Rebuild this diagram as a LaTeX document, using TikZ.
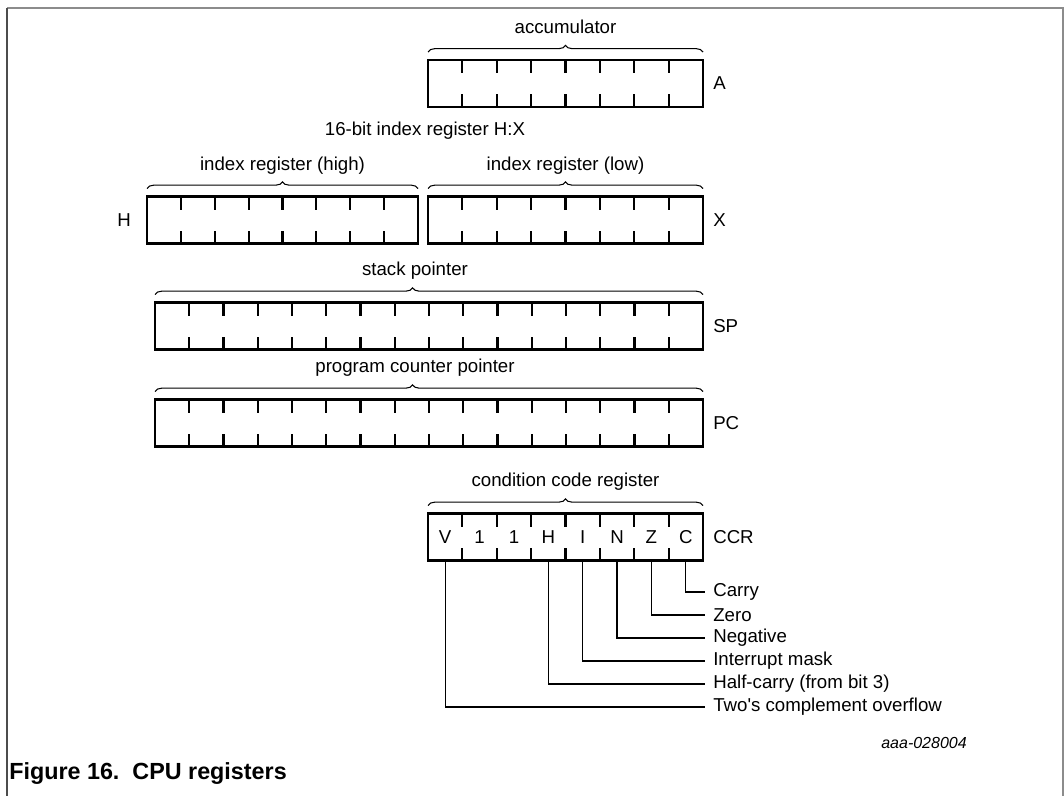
\documentclass[tikz,border=0pt]{standalone}
\usepackage{fontspec}
\setmainfont{Liberation Sans}
\usetikzlibrary{positioning, calc, decorations.pathreplacing}

\begin{document}
\begin{tikzpicture}[
		x=0.75pt, y=-0.75pt,
		every node/.style={font=\fontsize{14}{16}\selectfont},
		reg/.style={draw, line width=2.2pt, minimum height=47*0.75pt, inner sep=0pt, outer sep=0pt},
		tickmark/.style={line width=1.6pt},
		regname/.style={inner sep=0pt},
		title/.style={anchor=base, inner sep=0pt},
		regbrace/.style={decorate, decoration={brace, amplitude=5pt, #1}, line width=0.8pt},
		regbrace/.default={aspect=0.5},
		flagline/.style={line width=1pt},
		flagname/.style={anchor=west, inner xsep=6pt, inner ysep=0pt}
		]
		
		% Frame
		\useasboundingbox (0,0) rectangle (1064,796);
		\draw[black!45, line width=1.2pt] (7,8) -- (1063,8) -- (1063,796);
		\draw[black!70, line width=1.6pt] (7,8) -- (7,796);
		
		% Registers
		\node[reg, minimum width=275*0.75pt] (acc) at (565.5,83.5) {};
		\node[reg, minimum width=271*0.75pt] (hreg) at (282.5,220) {};
		\node[reg, minimum width=275*0.75pt] (xreg) at (565.5,220) {};
		\node[reg, minimum width=548*0.75pt] (sp) at (429,326) {};
		\node[reg, minimum width=548*0.75pt] (pc) at (429,423) {};
		\node[reg, minimum width=275*0.75pt] (ccr) at (565.5,537) {};
		
		% Bit ticks
		\foreach \r/\m in {acc/7, hreg/7, xreg/7, sp/15, pc/15, ccr/7}
		\foreach \i in {1,...,\m} {
			\draw[tickmark] ($(\r.north west)!{\i/(\m+1)}!(\r.north east)$) -- ++(0,13);
			\draw[tickmark] ($(\r.south west)!{\i/(\m+1)}!(\r.south east)$) -- ++(0,-13);
		}
		
		% Braces
		\foreach \r in {acc, hreg, xreg, ccr}
		\draw[regbrace] ([yshift=6pt]\r.north west) -- ([yshift=6pt]\r.north east);
		\foreach \r in {sp, pc}
		\draw[regbrace={aspect=0.47}] ([yshift=6pt]\r.north west) -- ([yshift=6pt]\r.north east);
		
		% Titles
		\node[title] (accT) at ($(acc.north)+(0,-27)$) {accumulator};
		\node[title] (hxT) at (425,135) {16-bit index register H:X};
		\node[title] (hT) at ($(hreg.north)+(0,-26)$) {index register (high)};
		\node[title] (xT) at ($(xreg.north)+(0,-26)$) {index register (low)};
		\node[title] (spT) at ($(sp.north)+(-14,-27)$) {stack pointer};
		\node[title] (pcT) at ($(pc.north)+(-14,-27)$) {program counter pointer};
		\node[title] (ccrT) at ($(ccr.north)+(0,-27)$) {condition code register};
		
		% Register names
		\node[regname, right=7.5pt of acc] (accN) {A};
		\node[regname, left=12pt of hreg] (hN) {H};
		\node[regname, right=7.5pt of xreg] (xN) {X};
		\node[regname, right=7.5pt of sp] (spN) {SP};
		\node[regname, right=7.5pt of pc] (pcN) {PC};
		\node[regname, right=7.5pt of ccr] (ccrN) {CCR};
		
		% CCR bits
		\foreach \f [count=\i] in {V,1,1,H,I,N,Z,C}
		\node (f\i) at ($(ccr.west)!{(\i-0.5)/8}!(ccr.east)$) {\f};
		
		% Flag descriptions
		\node[flagname] (carry) at (705,592) {Carry};
		\node[flagname] (zero) at (705,615) {Zero};
		\node[flagname] (neg) at (705,638) {Negative};
		\node[flagname] (imask) at (705,661) {Interrupt mask};
		\node[flagname] (hcarry) at (705,684) {Half-carry (from bit 3)};
		\node[flagname] (ovf) at (705,707) {Two\textquotesingle s complement overflow};
		
		\draw[flagline] (f8 |- ccr.south) |- (carry.west);
		\draw[flagline] (f7 |- ccr.south) |- (zero.west);
		\draw[flagline] (f6 |- ccr.south) |- (neg.west);
		\draw[flagline] (f5 |- ccr.south) |- (imask.west);
		\draw[flagline] (f4 |- ccr.south) |- (hcarry.west);
		\draw[flagline] (f1 |- ccr.south) |- (ovf.west);
		
		% Figure id and caption
		\node[anchor=east, inner sep=0pt, font=\itshape\fontsize{12}{14}\selectfont] (figid) at (967,743) {aaa-028004};
		\node[anchor=base west, inner sep=0pt, font=\bfseries\fontsize{17.5}{20}\selectfont] (cap) at (9,779) {Figure 16.\ \ CPU registers};
		
	\end{tikzpicture}
\end{document}
